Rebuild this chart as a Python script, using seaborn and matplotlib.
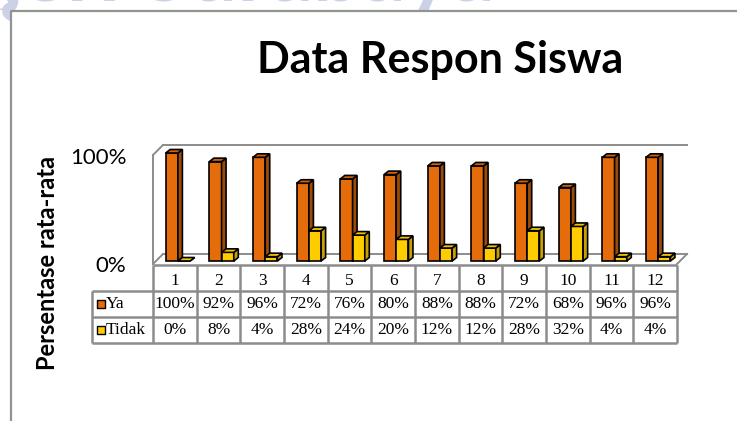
import numpy as np
import pandas as pd
import seaborn as sns
import matplotlib.pyplot as plt
from matplotlib.patches import Polygon
from matplotlib.lines import Line2D
from matplotlib.transforms import ScaledTranslation

# data
soal = [str(i) for i in range(1, 13)]
ya = [100, 92, 96, 72, 76, 80, 88, 88, 72, 68, 96, 96]
tidak = [0, 8, 4, 28, 24, 20, 12, 12, 28, 32, 4, 4]
seri = ["Ya", "Tidak"]

warna = {"Ya": "#E46C0A", "Tidak": "#FFCC00"}
sisi = {"Ya": "#9C4A08", "Tidak": "#C8A000"}
atas = {"Ya": "#D2600A", "Tidak": "#F2C200"}
abu = "#8C8C8C"

df = pd.DataFrame({
    "Soal": soal * 2,
    "Respon": ["Ya"] * len(soal) + ["Tidak"] * len(soal),
    "Persen": [v / 100 for v in ya + tidak],
})

W, H = 737, 421
fig = plt.figure(figsize=(W / 100, H / 100), dpi=100)


def px(x0, y0, x1, y1):
    # pixel box -> figure rect
    return [x0 / W, 1 - y1 / H, (x1 - x0) / W, (y1 - y0) / H]


# faint page watermark, seen only outside the chart frame
for kotak in [px(0, 0, W, 10), px(0, 0, 10, 60)]:
    wm = fig.add_axes(kotak)
    wm.axis("off")
    wm.set_xlim(0, W)
    wm.set_ylim(H, 0)
    wm.text(-25, 48, "geri Surabaya", fontsize=62, color="#CDD1E8",
            family="Lato", fontweight="bold", clip_on=True)

# main bar axes
ax = fig.add_axes(px(153, 153, 677, 261))
ax.patch.set_alpha(0)
sns.barplot(data=df, x="Soal", y="Persen", hue="Respon", hue_order=seri,
            palette=warna, saturation=1, width=0.56, edgecolor="black",
            linewidth=1.2, legend=False, ax=ax)

# chart frame (left and top edges)
ax.add_line(Line2D([11 / W, 11 / W, 1.0], [0, 1 - 10.5 / H, 1 - 10.5 / H], color="#8F968F",
                   lw=1.6, transform=fig.transFigure, clip_on=False))

geser = 0.07
x0, x1 = -0.5 - geser, len(soal) - 0.5 - geser
ax.set_xlim(x0, x1)
ax.set_ylim(0, 1)
ux = (677 - 153) / len(soal)   # px per category
uy = 261 - 153                 # px per 100%

# 3d depth on the bars
dx, dy = 4.5 / ux, 3.5 / uy
for k, (nama, cont) in enumerate(zip(seri, ax.containers)):
    z = 2 + k
    for bar in cont:
        bx, bw, bh = bar.get_x(), bar.get_width(), bar.get_height()
        bar.set_zorder(z)
        bar.set_clip_on(False)
        ax.add_patch(Polygon([(bx + bw, 0), (bx + bw + dx, dy), (bx + bw + dx, bh + dy), (bx + bw, bh)],
                             facecolor=sisi[nama], edgecolor="black", lw=1.2, zorder=z, clip_on=False))
        ax.add_patch(Polygon([(bx, bh), (bx + dx, bh + dy), (bx + bw + dx, bh + dy), (bx + bw, bh)],
                             facecolor=atas[nama], edgecolor="black", lw=1.2, zorder=z, clip_on=False))

# walls / floor
fy0, fy1 = -3 / uy, 1 - 2 / uy
bxo, by0, by1 = 10 / ux, 7 / uy, 1 + 8 / uy
dinding = [
    ([x0, x0], [fy0, fy1]),
    ([x0, x0 + bxo], [fy1, by1]),
    ([x0, x0 + bxo], [fy0, by0]),
    ([x0 + bxo, x1 + bxo], [by1, by1]),
    ([x0 + bxo, x1 + bxo], [by0, by0]),
    ([x1 + bxo, x1], [by0, fy0]),
]
for xs, ys in dinding:
    ax.plot(xs, ys, color=abu, lw=1.4, zorder=1, clip_on=False)

for s in ax.spines.values():
    s.set_visible(False)
ax.set_xticks([])
ax.set_xlabel("")
ax.set_ylabel("")
ax.set_yticks([0, 1])
ax.set_yticklabels(["0%", "100%"], family="Lato", fontsize=16)
ax.tick_params(axis="y", length=0, pad=19)
for lab in ax.get_yticklabels():
    lab.set_transform(lab.get_transform() + ScaledTranslation(0, -0.035, fig.dpi_scale_trans))

fig.text(48 / W, 1 - 263 / H, "Persentase rata-rata", rotation=90, ha="center",
         va="center", family="Lato", fontweight="bold", fontsize=17)
fig.text(440 / W, 1 - 60 / H, "Data Respon Siswa", ha="center", va="center",
         family="Lato", fontweight="bold", fontsize=31)

# data table under the chart
tab = fig.add_axes(px(92, 265, 677, 343))
tab.axis("off")
xl = x0 - (153 - 92) / ux
tab.set_xlim(xl, x1)
tab.set_ylim(3, 0)
tab.hlines(0, x0, x1, color=abu, lw=1.8, clip_on=False)
tab.hlines([1, 2, 3], xl, x1, color=abu, lw=1.8, clip_on=False)
tab.vlines([x0 + k for k in range(len(soal) + 1)], 0, 3, color=abu, lw=1.8, clip_on=False)
tab.vlines(xl, 1, 3, color=abu, lw=1.8, clip_on=False)

serif = dict(family="Liberation Serif", fontsize=12.5, ha="center", va="center")
for k, s in enumerate(soal):
    tab.text(k - geser, 0.6, s, **serif)
for r, (nama, nilai) in enumerate(zip(seri, [ya, tidak]), start=1):
    tab.scatter([xl + 9 / ux], [r + 0.5], marker="s", s=32, color=warna[nama],
                edgecolor="black", lw=1.0, clip_on=False)
    tab.text(xl + 14 / ux, r + 0.5, nama, family="Liberation Serif", fontsize=12.5,
             ha="left", va="center")
    for k, v in enumerate(nilai):
        tab.text(k - geser, r + 0.5, f"{v}%", **serif)

fig.savefig("out.png", dpi=100)
